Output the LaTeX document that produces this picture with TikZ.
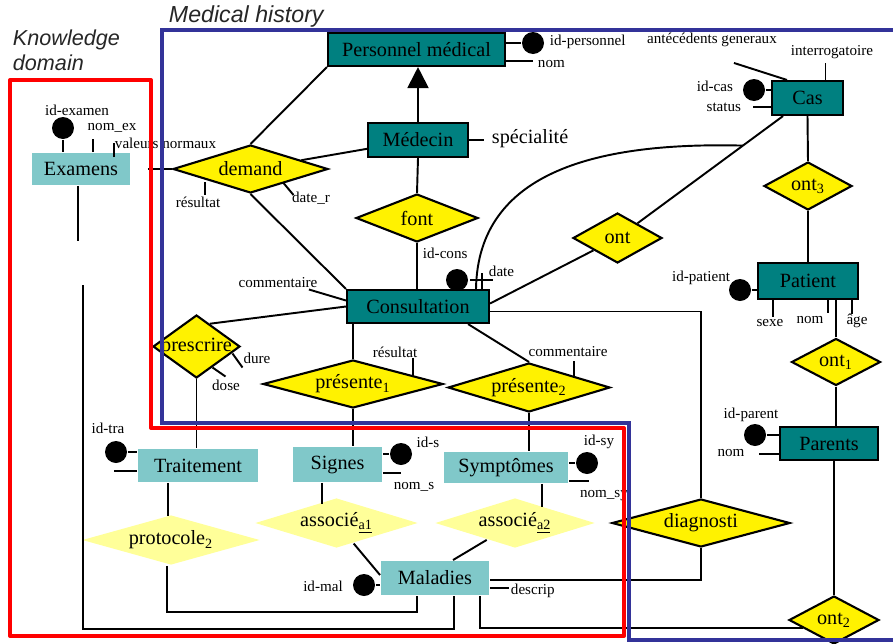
\documentclass[tikz,border=0pt]{standalone}
\usepackage{fontspec}
\setmainfont{Liberation Serif}
\newfontfamily\titrefont{Liberation Sans}
\usetikzlibrary{shapes.geometric, arrows.meta, calc}

\definecolor{entfonce}{RGB}{0,128,128}
\definecolor{entclair}{RGB}{128,200,201}
\definecolor{relclair}{RGB}{255,255,153}
\definecolor{cadrebleu}{RGB}{51,51,153}

\begin{document}
\begin{tikzpicture}[ x = 0.02cm, y = -0.02cm, line width = 1.1pt,
		ent/.style = { draw, line width = 1.2pt, fill = entfonce, inner sep = 0pt, font = \fontsize{11.5}{13}\selectfont },
		entc/.style = { fill = entclair, inner sep = 0pt, font = \fontsize{11.5}{13}\selectfont },
		rel/.style = { diamond, draw, line width = 1.2pt, fill = yellow, inner sep = 0pt, font = \fontsize{11.5}{13}\selectfont },
		relc/.style = { diamond, fill = relclair, inner sep = 0pt, font = \fontsize{11.5}{13}\selectfont },
		attr/.style = { inner sep = 0pt, font = \fontsize{8.6}{10}\selectfont },
		cle/.style = { circle, fill = black, minimum size = 0.44cm, inner sep = 0pt } ]
		\useasboundingbox ( 0, 0 ) rectangle ( 893, 643 );

		% заголовки
		\node [ anchor = west, inner sep = 0pt, align = left, text = black!85, font = \titrefont\itshape\fontsize{12.3}{14.2}\selectfont ] (t-know) at ( 12, 50 ) {Knowledge\\domain};
		\node [ anchor = west, inner sep = 0pt, text = black!85, font = \titrefont\itshape\fontsize{13.2}{15}\selectfont ] (t-med) at ( 168, 16 ) {Medical history};

		% сущности
		\node [ ent, minimum width = 3.54cm, minimum height = 0.66cm ] (pers) at ( 416.5, 49.5 ) {Personnel médical};
		\node [ ent, minimum width = 2cm, minimum height = 0.68cm ] (med) at ( 418, 140 ) {Médecin};
		\node [ ent, minimum width = 2.84cm, minimum height = 0.66cm ] (cons) at ( 418, 306.5 ) {Consultation};
		\node [ ent, minimum width = 1.42cm, minimum height = 0.68cm ] (cas) at ( 807.5, 98 ) {Cas};
		\node [ ent, minimum width = 2cm, minimum height = 0.72cm ] (pat) at ( 808, 281 ) {Patient};
		\node [ ent, minimum width = 1.96cm, minimum height = 0.66cm ] (par) at ( 829, 443.5 ) {Parents};
		\node [ entc, minimum width = 1.96cm, minimum height = 0.64cm ] (exa) at ( 81, 169 ) {Examens};
		\node [ entc, minimum width = 2.4cm, minimum height = 0.66cm ] (trt) at ( 198, 465.5 ) {Traitement};
		\node [ entc, minimum width = 1.78cm, minimum height = 0.7cm ] (sig) at ( 337.5, 464.5 ) {Signes};
		\node [ entc, minimum width = 2.48cm, minimum height = 0.62cm ] (sym) at ( 506, 467.5 ) {Symptômes};
		\node [ entc, minimum width = 2.16cm, minimum height = 0.68cm ] (mal) at ( 435, 578 ) {Maladies};

		% связи
		\node [ rel, aspect = 3.23, minimum width = 3.1cm, minimum height = 0.96cm ] (demand) at ( 250.5, 169 ) {demand};
		\node [ rel, aspect = 2.54, minimum width = 2.44cm, minimum height = 0.96cm ] (font) at ( 417, 218 ) {font};
		\node [ rel, aspect = 1.78, minimum width = 1.78cm, minimum height = 1cm ] (ont) at ( 617.5, 238 ) {ont};
		\node [ rel, aspect = 1.83, minimum width = 1.76cm, minimum height = 0.96cm ] (ont3) at ( 808, 186 ) {ont\textsubscript{3}};
		\node [ rel, aspect = 1.89, minimum width = 1.78cm, minimum height = 0.94cm ] (ont1) at ( 836, 362 ) {ont\textsubscript{1}};
		\node [ rel, aspect = 1.88, minimum width = 1.8cm, minimum height = 0.96cm ] (ont2) at ( 834, 620 ) {ont\textsubscript{2}};
		\node [ rel, aspect = 1.38, minimum width = 1.74cm, minimum height = 1.26cm, inner xsep = -0.4cm ] (prescrire) at ( 196.5, 346.5 ) {prescrire};
		\node [ rel, aspect = 3.75, minimum width = 3.6cm, minimum height = 0.96cm ] (pres1) at ( 353, 384 ) {présente\textsubscript{1}};
		\node [ rel, aspect = 3.3, minimum width = 3.24cm, minimum height = 0.98cm ] (pres2) at ( 529, 387.5 ) {présente\textsubscript{2}};
		\node [ rel, aspect = 3.7, minimum width = 3.56cm, minimum height = 0.96cm ] (diag) at ( 701, 523 ) {diagnosti};
		\node [ relc, aspect = 3.26, minimum width = 3.26cm, minimum height = 1cm ] (ass1) at ( 336.5, 523 ) {associé\textsubscript{\underline{a1}}};
		\node [ relc, aspect = 3.2, minimum width = 3.2cm, minimum height = 1cm ] (ass2) at ( 515, 523 ) {associé\textsubscript{\underline{a2}}};
		\node [ relc, aspect = 3.56, minimum width = 3.56cm, minimum height = 1cm ] (proto) at ( 171, 540 ) {protocole\textsubscript{2}};

		% наследование
		\draw [ -{Triangle[ length = 0.42cm, width = 0.42cm ]} ] (med.north) -- (med.north |- pers.south);

		% линии между сущностями и связями
		\draw (demand.north) -- (pers.south west);
		\draw (demand) -- (med);
		\draw [ shorten <= 0.34cm ] (exa.east) -- (demand.west);
		\draw (demand.south) -- (cons.north west);
		\draw (med.south) -- (font.north);
		\draw (font.south) -- (font.south |- cons.north);
		\draw (cas) -- (ont);
		\draw (ont) -- ($(cons.east) + ( 0, -3 )$);
		\coordinate (arcdeb) at ($(cas)!0.34!(ont)$);
		\coordinate (arcfin) at ($(cons.north) + ( 58, 0 )$);
		\draw (arcdeb) .. controls ( 600, 142 ) and ( 478, 170 ) .. (arcfin);
		\draw (cas.south) -- (ont3.north);
		\draw (ont3.south) -- (ont3.south |- pat.north);
		\draw (ont1.north) -- (ont1.north |- pat.south);
		\draw (ont1.south) -- (ont1.south |- par.north);
		\draw (ont2.north) -- (ont2.north |- par.south);
		\draw ($(prescrire.north)!0.3!(prescrire.east)$) -- (cons.west);
		\draw (prescrire.south) -- (prescrire.south |- trt.north);
		\draw (pres1.north) -- (pres1.north |- cons.south);
		\draw (pres1.south) -- (pres1.south |- sig.north);
		\draw ($(cons.south east) + ( -22, 0 )$) -- (pres2.north);
		\draw (pres2.south) -- (pres2.south |- sym.north);
		\draw ($(cons.east) + ( 0, 5 )$) -| (diag.north);
		\draw (diag.south) |- ($(mal.east) + ( 0, 2 )$);
		\draw ($(sig.south) + ( -15.5, 0 )$) -- ++( 0, 21 );
		\draw ($(sym.south) + ( 36, 0 )$) -- ++( 0, 23 );
		\draw (ass1) -- ($(mal.west) + ( 0, -3 )$);
		\draw (ass2) -- ($(mal.north) + ( 18, 0 )$);
		\draw ($(trt.south) + ( -30, 0 )$) -- ++( 0, 33 );
		\draw ($(proto.south) + ( -4, 0 )$) |- ($(mal.south) + ( -18, 16 )$) -- ($(mal.south) + ( -18, 0 )$);
		\draw ($(exa.south) + ( -3, 0 )$) -- ++( 0, 55 );
		\coordinate (exbas) at ( 83, 285 );
		\draw (exbas) |- ($(mal.south) + ( 19, 33 )$) -- ($(mal.south) + ( 19, 0 )$);
		\draw ($(mal.south) + ( 45, 0 )$) |- ($(ont2.west) + ( 15, 8 )$);

		% ключи
		\node [ cle ] (k-exa) at ( 63, 128 ) {};
		\node [ cle ] (k-pers) at ( 533, 43 ) {};
		\node [ cle ] (k-cas) at ( 754, 90 ) {};
		\node [ cle ] (k-cons) at ( 457, 280 ) {};
		\node [ cle ] (k-pat) at ( 740, 290 ) {};
		\node [ cle ] (k-par) at ( 755, 435 ) {};
		\node [ cle ] (k-trt) at ( 116, 452 ) {};
		\node [ cle ] (k-sig) at ( 401, 454 ) {};
		\node [ cle ] (k-sym) at ( 587, 463 ) {};
		\node [ cle ] (k-mal) at ( 364, 585 ) {};
		\draw (k-exa) -- (k-exa |- exa.north);
		\draw (k-pers) -- (k-pers -| pers.east);
		\draw (k-cas) -- (k-cas -| cas.west);
		\draw (k-pat) -- (k-pat -| pat.west);
		\draw (k-par) -- (k-par -| par.west);
		\draw (k-trt) -- (k-trt -| trt.west);
		\draw (k-sig) -- (k-sig -| sig.east);
		\draw (k-sym) -- (k-sym -| sym.east);
		\draw (k-mal) -- (k-mal -| mal.west);

		% атрибуты
		\node [ attr ] (a-idexa) at ( 77, 110 ) {id-examen};
		\node [ attr ] (a-nomex) at ( 112, 128 ) {nom\_ex};
		\node [ attr, anchor = west ] (a-valeurs) at ( 114, 143 ) {valeurs normaux};
		\draw ($(exa.north) + ( 12, 0 )$) -- ++( 0, -13 );
		\draw ($(exa.north) + ( 33, 5 )$) -- ++( 0, -14 );

		\node [ attr, anchor = west ] (a-idpers) at ( 549, 42 ) {id-personnel};
		\node [ attr, anchor = west ] (a-nompers) at ( 537, 64 ) {nom};
		\draw ($(pers.east) + ( 0, 11.5 )$) -- ++( 27, 0 );
		\node [ anchor = west, inner sep = 0pt, font = \fontsize{11.5}{13}\selectfont ] (a-spec) at ( 491, 139 ) {spécialité};
		\draw (med.east) -- ++( 15, 0 );

		\node [ attr ] (a-antec) at ( 712, 40 ) {antécédents generaux};
		\node [ attr ] (a-interr) at ( 832, 52 ) {interrogatoire};
		\node [ attr, anchor = east ] (a-idcas) at ( 734, 86 ) {id-cas};
		\node [ attr, anchor = east ] (a-status) at ( 742, 107 ) {status};
		\draw ($(cas.north west) + ( 16, 0 )$) -- ++( -53, -17 );
		\draw ($(cas.north) + ( 18, 0 )$) -- ++( 0, -17 );
		\draw ($(cas.west) + ( 0, 9 )$) -- ++( -18, 0 );

		\node [ attr, anchor = west ] (a-idcons) at ( 422, 253 ) {id-cons};
		\node [ attr, anchor = west ] (a-date) at ( 488, 271 ) {date};
		\node [ attr ] (a-comcons) at ( 278, 283 ) {commentaire};
		\draw ($(cons.north) + ( 64, 0 )$) -- ++( 0, -16 );
		\draw ($(cons.north) + ( 52, -9 )$) -- ++( 23, 0 );
		\draw ($(cons.west) + ( 0, -6 )$) -- ++( -37, -11 );

		\node [ attr, anchor = east ] (a-idpat) at ( 731, 278 ) {id-patient};
		\node [ attr ] (a-sexe) at ( 770, 323 ) {sexe};
		\node [ attr ] (a-nompat) at ( 810, 320 ) {nom};
		\node [ attr ] (a-age) at ( 857, 321 ) {âge};
		\draw ($(pat.south) + ( -35, 0 )$) -- ++( 0, 17 );
		\draw ($(pat.south) + ( 20, 0 )$) -- ++( 0, 13 );
		\draw ($(pat.south) + ( 44, 0 )$) -- ++( 0, 14 );

		\node [ attr ] (a-idpar) at ( 751, 415 ) {id-parent};
		\node [ attr ] (a-nompar) at ( 731, 453 ) {nom};
		\draw ($(par.west) + ( 0, 10.5 )$) -- ++( -20, 0 );

		\node [ attr ] (a-idtrt) at ( 108, 428 ) {id-tra};
		\draw ($(trt.west) + ( 0, 5.5 )$) -- ++( -23, 0 );

		\node [ attr ] (a-ids) at ( 428, 442 ) {id-s};
		\node [ attr ] (a-noms) at ( 414, 487 ) {nom\_s};
		\draw ($(sig.east) + ( 0, 8.5 )$) -- ++( 18, 0 );

		\node [ attr ] (a-idsy) at ( 599, 442 ) {id-sy};
		\node [ attr ] (a-nomsy) at ( 604, 496 ) {nom\_sy};
		\draw ($(sym.east) + ( 0, 13.5 )$) -- ++( 20, 0 );

		\node [ attr ] (a-idmal) at ( 323, 586 ) {id-mal};
		\node [ attr, anchor = west ] (a-descrip) at ( 510, 591 ) {descrip};
		\draw ($(mal.east) + ( 0, 10 )$) -- ++( 19, 0 );

		% атрибуты связей
		\node [ attr ] (a-resdem) at ( 198, 202 ) {résultat};
		\node [ attr ] (a-dater) at ( 311, 198 ) {date\_r};
		\draw ($(demand) + ( -45.5, 13 )$) -- ++( 0, 13 );
		\draw ($(demand) + ( 33, 14 )$) -- ++( 10, 12 );
		\node [ attr ] (a-respres) at ( 395, 352 ) {résultat};
		\draw ($(pres1) + ( 60, -8 )$) -- ++( 0, -18 );
		\node [ attr ] (a-compres) at ( 568, 352 ) {commentaire};
		\draw ($(pres2) + ( 45, -11 )$) -- ++( 0, -16 );
		\node [ attr ] (a-dure) at ( 257, 358 ) {dure};
		\node [ attr ] (a-dose) at ( 226, 385 ) {dose};
		\draw ($(prescrire) + ( 36, 7 )$) -- ++( 10, 14 );
		\draw ($(prescrire) + ( 16, 21 )$) -- ++( 13, 9 );

		% рамки
		\draw [ red, line width = 2.3pt, line join = round ] ( 10, 80 ) -- ( 151, 80 ) -- ( 151, 428 ) -- ( 624, 428 ) -- ( 624, 636 ) -- ( 10, 636 ) -- cycle;
		\draw [ cadrebleu, line width = 2.3pt ] ( 900, 30 ) -- ( 162, 30 ) -- ( 162, 423 ) -- ( 629, 423 ) -- ( 629, 640 ) -- ( 900, 640 );
	\end{tikzpicture}
\end{document}
